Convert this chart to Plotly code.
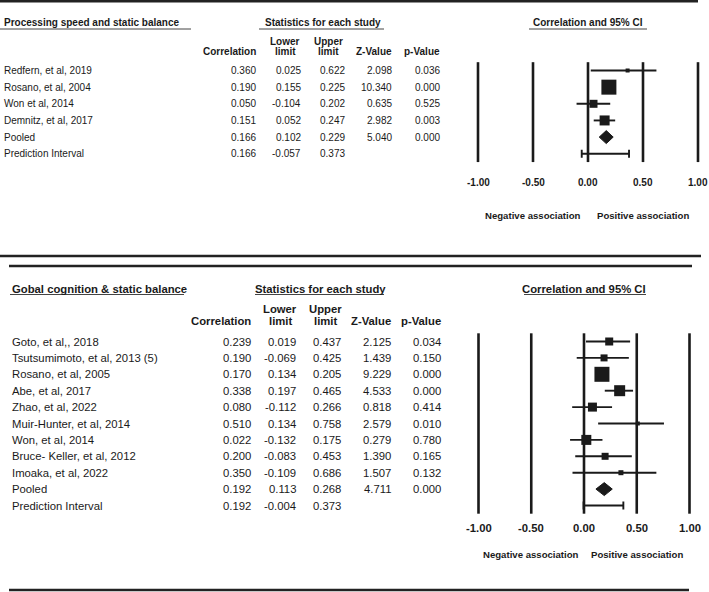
import plotly.graph_objects as go

W, H = 709, 592

# ---------------- data: panel 1 ----------------
ps_title = "Processing speed and static balance"
ps_studies = ["Redfern, et al, 2019", "Rosano, et al, 2004", "Won et al, 2014", "Demnitz, et al, 2017"]
ps_corr = [0.360, 0.190, 0.050, 0.151]
ps_lower = [0.025, 0.155, -0.104, 0.052]
ps_upper = [0.622, 0.225, 0.202, 0.247]
ps_z = [2.098, 10.340, 0.635, 2.982]
ps_p = [0.036, 0.000, 0.525, 0.003]
ps_pooled = [0.166, 0.102, 0.229, 5.040, 0.000]   # corr, lower, upper, z, p
ps_pred = [0.166, -0.057, 0.373]                  # corr, lower, upper

# ---------------- data: panel 2 ----------------
gc_title = "Gobal cognition & static balance"
gc_studies = ["Goto, et al,, 2018", "Tsutsumimoto, et al, 2013 (5)", "Rosano, et al, 2005",
              "Abe, et al, 2017", "Zhao, et al, 2022", "Muir-Hunter, et al, 2014",
              "Won, et al, 2014", "Bruce- Keller, et al, 2012", "Imoaka, et al, 2022"]
gc_corr = [0.239, 0.190, 0.170, 0.338, 0.080, 0.510, 0.022, 0.200, 0.350]
gc_lower = [0.019, -0.069, 0.134, 0.197, -0.112, 0.134, -0.132, -0.083, -0.109]
gc_upper = [0.437, 0.425, 0.205, 0.465, 0.266, 0.758, 0.175, 0.453, 0.686]
gc_z = [2.125, 1.439, 9.229, 4.533, 0.818, 2.579, 0.279, 1.390, 1.507]
gc_p = [0.034, 0.150, 0.000, 0.000, 0.414, 0.010, 0.780, 0.165, 0.132]
gc_pooled = [0.192, 0.113, 0.268, 4.711, 0.000]
gc_pred = [0.192, -0.004, 0.373]

tick_vals = [-1.0, -0.5, 0.0, 0.5, 1.0]
tick_text = ["-1.00", "-0.50", "0.00", "0.50", "1.00"]
col_headers = ["Correlation", "Lower<br>limit", "Upper<br>limit", "Z-Value", "p-Value"]
assoc_labels = ["Negative association", "Positive association"]
assoc_at = [-0.5, 0.5]

# ---------------- styles (box sizes in px) ----------------
ps_box = [4, 15, 8, 10]
gc_box = [8, 7, 15, 11, 9, 4, 10, 7, 5]

FONT = "Liberation Sans, Arial, sans-serif"
INK = "#1a1a1a"

panels = [
    dict(title=ps_title, studies=ps_studies, corr=ps_corr, lower=ps_lower, upper=ps_upper,
         z=ps_z, p=ps_p, pooled=ps_pooled, pred=ps_pred, box=ps_box,
         px_top=0, px_bot=256, row0=70.5, step=16.65, zero=588, unit=110,
         fs=10, label_x=2, cols=[258, 303, 347, 394, 442], hdr_center=[None, 285, 328, None, None],
         title_y=23, hdr_y1=41, hdr_y2=52, tick_y=182, assoc_y=215, assoc_fs=9.6,
         stats_x=323, ul_y=29, ul_title=(0, 191), ul_stats=(259, 384), ul_ci=(529, 647),
         xa="x", ya="y"),
    dict(title=gc_title, studies=gc_studies, corr=gc_corr, lower=gc_lower, upper=gc_upper,
         z=gc_z, p=gc_p, pooled=gc_pooled, pred=gc_pred, box=gc_box,
         px_top=256, px_bot=592, row0=341.5, step=16.4, zero=584, unit=105.5,
         fs=11.3, label_x=10, cols=[253, 298, 343, 393, 443], hdr_center=[None, 280, 325, None, None],
         title_y=289, hdr_y1=309, hdr_y2=321, tick_y=528, assoc_y=554, assoc_fs=9.6,
         stats_x=320, ul_y=294.5, ul_title=(10, 184), ul_stats=(255, 384), ul_ci=(524, 646),
         xa="x2", ya="y2"),
]

fig = go.Figure()
annotations = []
shapes = []
layout_axes = {}


def py(px):
    return 1 - px / H


def pxx(px):
    return px / W


for k, P in enumerate(panels):
    n = len(P["studies"])
    pooled_r = n
    pred_r = n + 1
    xa, ya = P["xa"], P["ya"]
    xname = "xaxis" if xa == "x" else "xaxis" + xa[1:]
    yname = "yaxis" if ya == "y" else "yaxis" + ya[1:]
    # axes
    x_lo = (440 - P["zero"]) / P["unit"]
    x_hi = (W - P["zero"]) / P["unit"]
    r_top = (P["px_top"] - P["row0"]) / P["step"]
    r_bot = (P["px_bot"] - P["row0"]) / P["step"]
    layout_axes[xname] = dict(domain=[440 / W, 1], range=[x_lo, x_hi], visible=False, anchor=ya)
    layout_axes[yname] = dict(domain=[py(P["px_bot"]), py(P["px_top"])], range=[r_bot, r_top],
                              visible=False, anchor=xa)

    # vertical reference lines
    vx, vy = [], []
    for v in tick_vals:
        vx += [v, v, None]
        vy += [-0.5, pred_r + 0.5, None]
    fig.add_trace(go.Scatter(x=vx, y=vy, mode="lines", line=dict(color=INK, width=2.6),
                             xaxis=xa, yaxis=ya, hoverinfo="skip", showlegend=False))

    # study CIs
    cx, cy = [], []
    for i in range(n):
        cx += [P["lower"][i], P["upper"][i], None]
        cy += [i, i, None]
    fig.add_trace(go.Scatter(x=cx, y=cy, mode="lines", line=dict(color=INK, width=1.9),
                             xaxis=xa, yaxis=ya, hoverinfo="skip", showlegend=False))
    # study boxes
    fig.add_trace(go.Scatter(x=P["corr"], y=list(range(n)), mode="markers",
                             marker=dict(symbol="square", size=P["box"], color=INK, opacity=1,
                                         line=dict(width=0)),
                             xaxis=xa, yaxis=ya, hoverinfo="skip", showlegend=False))
    # pooled diamond
    est, lo, hi = P["pooled"][0], P["pooled"][1], P["pooled"][2]
    h = 6.5 / P["step"]
    fig.add_trace(go.Scatter(x=[lo, est, hi, est, lo], y=[pooled_r, pooled_r - h, pooled_r, pooled_r + h, pooled_r],
                             mode="lines", fill="toself", fillcolor=INK, line=dict(color=INK, width=1),
                             xaxis=xa, yaxis=ya, hoverinfo="skip", showlegend=False))
    # prediction interval
    e, lo2, hi2 = P["pred"]
    c = 4 / P["step"]
    fig.add_trace(go.Scatter(x=[lo2, hi2, None, lo2, lo2, None, hi2, hi2],
                             y=[pred_r, pred_r, None, pred_r - c, pred_r + c, None, pred_r - c, pred_r + c],
                             mode="lines", line=dict(color=INK, width=1.9),
                             xaxis=xa, yaxis=ya, hoverinfo="skip", showlegend=False))

    fs = P["fs"]
    base = dict(showarrow=False, font=dict(family=FONT, size=fs, color=INK))

    # titles
    annotations.append(dict(base, text="<b>%s</b>" % P["title"], xref="paper", yref="paper",
                            x=pxx(P["label_x"]), y=py(P["title_y"]), xanchor="left", yanchor="middle"))
    annotations.append(dict(base, text="<b>Statistics for each study</b>", xref="paper", yref="paper",
                            x=pxx(P["stats_x"]), y=py(P["title_y"]), xanchor="center", yanchor="middle"))
    annotations.append(dict(base, text="<b>Correlation and 95% CI</b>", xref=xa, yref="paper",
                            x=0, y=py(P["title_y"]), xanchor="center", yanchor="middle"))
    for (a, b), yy in [(P["ul_title"], P["ul_y"]), (P["ul_stats"], P["ul_y"]), (P["ul_ci"], P["ul_y"])]:
        shapes.append(dict(type="line", xref="paper", yref="paper", x0=pxx(a), x1=pxx(b),
                           y0=py(yy), y1=py(yy), line=dict(color="#444", width=1)))

    # column headers
    for j, hd in enumerate(col_headers):
        if P["hdr_center"][j] is None:
            annotations.append(dict(base, text="<b>%s</b>" % hd, xref="paper", yref="paper",
                                    x=pxx(P["cols"][j]), y=py(P["hdr_y2"]), xanchor="right", yanchor="middle"))
        else:
            top, bot = hd.split("<br>")
            annotations.append(dict(base, text="<b>%s</b>" % top, xref="paper", yref="paper",
                                    x=pxx(P["hdr_center"][j]), y=py(P["hdr_y1"]), xanchor="center", yanchor="middle"))
            annotations.append(dict(base, text="<b>%s</b>" % bot, xref="paper", yref="paper",
                                    x=pxx(P["hdr_center"][j]), y=py(P["hdr_y2"]), xanchor="center", yanchor="middle"))

    # rows
    rows = []
    for i in range(n):
        rows.append((P["studies"][i], [P["corr"][i], P["lower"][i], P["upper"][i], P["z"][i], P["p"][i]], i))
    rows.append(("Pooled", P["pooled"], pooled_r))
    rows.append(("Prediction Interval", P["pred"], pred_r))
    for label, vals, r in rows:
        annotations.append(dict(base, text=label, xref="paper", yref=ya, x=pxx(P["label_x"]), y=r,
                                xanchor="left", yanchor="middle"))
        for j, v in enumerate(vals):
            annotations.append(dict(base, text="%.3f" % v, xref="paper", yref=ya, x=pxx(P["cols"][j]), y=r,
                                    xanchor="right", yanchor="middle"))

    # tick labels
    for v, t in zip(tick_vals, tick_text):
        annotations.append(dict(base, text="<b>%s</b>" % t, xref=xa, yref="paper", x=v, y=py(P["tick_y"]),
                                xanchor="center", yanchor="middle"))
    for v, t in zip(assoc_at, assoc_labels):
        annotations.append(dict(showarrow=False, font=dict(family=FONT, size=P["assoc_fs"], color=INK),
                                text="<b>%s</b>" % t, xref=xa, yref="paper", x=v, y=py(P["assoc_y"]),
                                xanchor="center", yanchor="middle"))

# horizontal rules
for (a, b, yy) in [(0, 698, 1.3), (0, 701, 256), (9, 692, 266), (9, 689, 590)]:
    shapes.append(dict(type="line", xref="paper", yref="paper", x0=pxx(a), x1=pxx(b),
                       y0=py(yy), y1=py(yy), line=dict(color="#222", width=2.6)))

fig.update_layout(width=W, height=H, margin=dict(l=0, r=0, t=0, b=0),
                  paper_bgcolor="white", plot_bgcolor="rgba(0,0,0,0)",
                  annotations=annotations, shapes=shapes, showlegend=False, **layout_axes)
fig.write_html("out.html", config={"displayModeBar": False},
               post_script="document.body.style.margin='0';")
